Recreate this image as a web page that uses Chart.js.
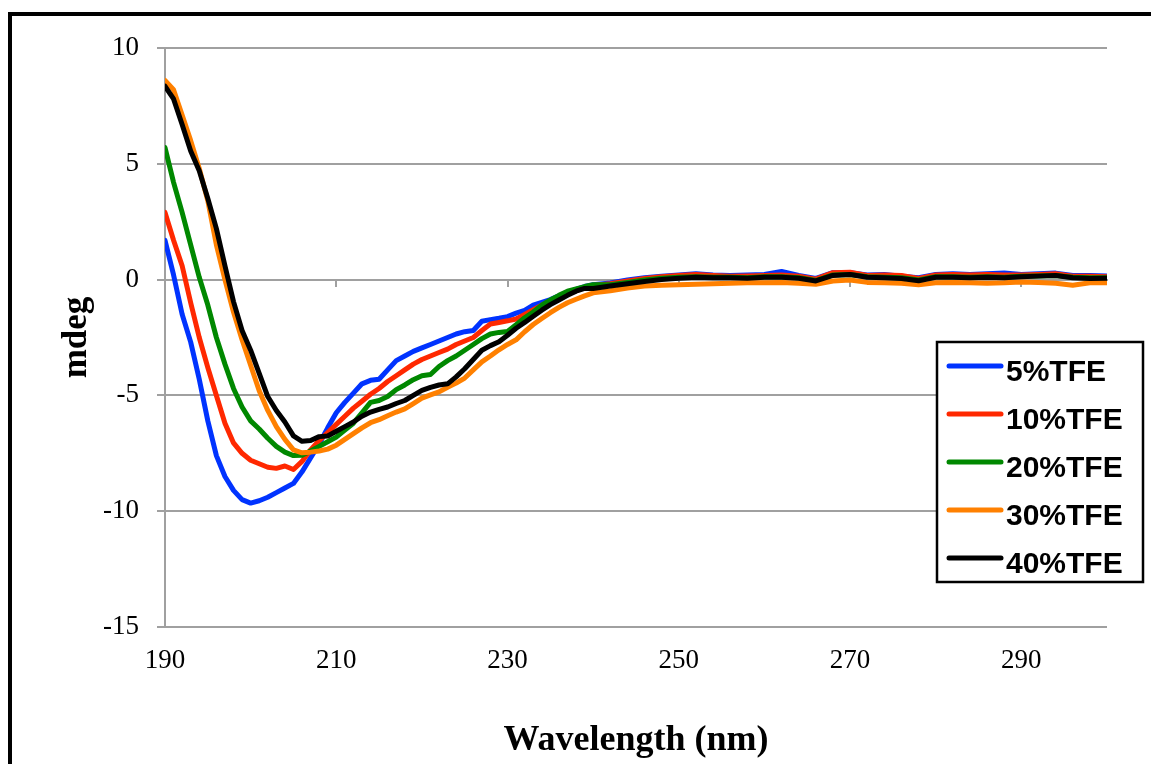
<!DOCTYPE html>
<html>
<head>
<meta charset="utf-8">
<script src="https://cdn.jsdelivr.net/npm/chart.js@4.4.0/dist/chart.umd.min.js"></script>
<style>
  html, body { margin: 0; padding: 0; background: #fff; }
  #wrap { width: 1151px; height: 764px; }
</style>
</head>
<body>
<div id="wrap"><canvas id="cd" width="1151" height="764"></canvas></div>
<script>
// wavelength grid (nm)
const wavelengths = [
  190, 191, 192, 193, 194, 195, 196, 197, 198, 199,
  200, 201, 202, 203, 204, 205, 206, 207, 208, 209,
  210, 211, 212, 213, 214, 215, 216, 217, 218, 219,
  220, 221, 222, 223, 224, 225, 226, 227, 228, 229,
  230, 231, 232, 233, 234, 235, 236, 237, 238, 239, 240,
  242, 244, 246, 248, 250, 252, 254, 256, 258, 260,
  262, 264, 266, 268, 270, 272, 274, 276, 278, 280,
  282, 284, 286, 288, 290, 292, 294, 296, 298, 300
];

const tfe5 = [
  1.7, 0.2, -1.5, -2.7, -4.3, -6.1, -7.6, -8.5, -9.1, -9.5,
  -9.65, -9.55, -9.4, -9.2, -9.0, -8.8, -8.3, -7.7, -7.1, -6.4,
  -5.75, -5.3, -4.9, -4.5, -4.35, -4.3, -3.9, -3.5, -3.3, -3.1,
  -2.95, -2.8, -2.65, -2.5, -2.35, -2.25, -2.2, -1.8, -1.73, -1.67,
  -1.6, -1.45, -1.33, -1.1, -0.98, -0.86, -0.7, -0.55, -0.42, -0.3, -0.22,
  -0.15, -0.02, 0.08, 0.15, 0.2, 0.25, 0.2, 0.18, 0.2, 0.22,
  0.35, 0.18, 0.05, 0.3, 0.3, 0.2, 0.22, 0.15, 0.08, 0.22,
  0.25, 0.22, 0.25, 0.28, 0.22, 0.25, 0.28, 0.18, 0.18, 0.15
];

const tfe10 = [
  2.9, 1.7, 0.6, -1.0, -2.5, -3.8, -5.0, -6.2, -7.05, -7.5,
  -7.8, -7.95, -8.1, -8.15, -8.05, -8.2, -7.85, -7.35, -6.95, -6.6,
  -6.25, -5.9, -5.55, -5.25, -4.95, -4.7, -4.4, -4.15, -3.9, -3.65,
  -3.45, -3.3, -3.15, -3.0, -2.8, -2.65, -2.5, -2.2, -1.92, -1.85,
  -1.78, -1.7, -1.5, -1.3, -1.1, -0.94, -0.78, -0.62, -0.48, -0.35, -0.25,
  -0.18, -0.06, 0.05, 0.12, 0.18, 0.22, 0.18, 0.15, 0.16, 0.18,
  0.2, 0.15, 0.02, 0.3, 0.32, 0.18, 0.2, 0.18, 0.05, 0.2,
  0.22, 0.2, 0.22, 0.2, 0.2, 0.22, 0.25, 0.15, 0.15, 0.12
];

const tfe20 = [
  5.7, 4.2, 2.9, 1.5, 0.1, -1.1, -2.5, -3.65, -4.7, -5.5,
  -6.1, -6.45, -6.85, -7.2, -7.45, -7.6, -7.58, -7.4, -7.2, -7.0,
  -6.8, -6.5, -6.2, -5.75, -5.3, -5.22, -5.05, -4.75, -4.55, -4.32,
  -4.15, -4.1, -3.75, -3.5, -3.3, -3.05, -2.8, -2.55, -2.35, -2.28,
  -2.24, -1.95, -1.65, -1.4, -1.1, -0.88, -0.68, -0.5, -0.4, -0.3, -0.22,
  -0.22, -0.12, -0.02, 0.06, 0.1, 0.12, 0.1, 0.1, 0.08, 0.12,
  0.12, 0.08, -0.04, 0.2, 0.22, 0.12, 0.1, 0.08, -0.02, 0.12,
  0.12, 0.1, 0.12, 0.1, 0.14, 0.16, 0.18, 0.1, 0.08, 0.08
];

const tfe30 = [
  8.6, 8.2, 7.1, 6.0, 4.8, 3.4, 1.5, 0.0, -1.4, -2.6,
  -3.7, -4.8, -5.65, -6.35, -6.9, -7.35, -7.48, -7.45, -7.4, -7.32,
  -7.15, -6.9, -6.65, -6.4, -6.18, -6.05, -5.88, -5.72, -5.58, -5.35,
  -5.12, -4.98, -4.85, -4.65, -4.47, -4.25, -3.9, -3.55, -3.3, -3.03,
  -2.8, -2.6, -2.25, -1.94, -1.68, -1.43, -1.2, -1.0, -0.85, -0.7, -0.57,
  -0.48, -0.36, -0.28, -0.24, -0.22, -0.2, -0.18, -0.16, -0.14, -0.14,
  -0.12, -0.16, -0.2, -0.06, -0.02, -0.12, -0.14, -0.16, -0.22, -0.14,
  -0.12, -0.14, -0.16, -0.14, -0.1, -0.12, -0.16, -0.24, -0.14, -0.14
];

const tfe40 = [
  8.35, 7.8, 6.7, 5.55, 4.7, 3.5, 2.2, 0.6, -0.95, -2.2,
  -3.05, -4.05, -5.05, -5.65, -6.15, -6.75, -6.98, -6.95, -6.78, -6.75,
  -6.55, -6.35, -6.15, -5.9, -5.72, -5.6, -5.5, -5.35, -5.22, -5.0,
  -4.78, -4.65, -4.55, -4.5, -4.2, -3.85, -3.45, -3.05, -2.85, -2.68,
  -2.4, -2.1, -1.85, -1.58, -1.32, -1.08, -0.88, -0.68, -0.5, -0.38, -0.38,
  -0.28, -0.18, -0.08, 0.0, 0.06, 0.1, 0.08, 0.08, 0.06, 0.1,
  0.1, 0.06, -0.06, 0.18, 0.22, 0.1, 0.08, 0.05, -0.05, 0.1,
  0.1, 0.08, 0.1, 0.08, 0.12, 0.15, 0.18, 0.08, 0.05, 0.06
];

const seriesNames = ['5%TFE', '10%TFE', '20%TFE', '30%TFE', '40%TFE'];
const seriesColors = ['#0033ff', '#ff2800', '#008800', '#ff8000', '#000000'];
const seriesValues = [tfe5, tfe10, tfe20, tfe30, tfe40];

const xTicks = [190, 210, 230, 250, 270, 290];
const yTicks = [-15, -10, -5, 0, 5, 10];

const GRID = '#a0a0a0';
const SERIF = '"Liberation Serif", "Times New Roman", serif';

const pts = vals => vals.map((v, i) => ({ x: wavelengths[i], y: v }));
const useTicks = list => s => { s.ticks = list.map(v => ({ value: v })); };

// outer frame of the figure
const framePlugin = {
  id: 'frame',
  beforeDraw(chart) {
    const c = chart.ctx;
    c.save();
    c.fillStyle = '#000';
    c.fillRect(8, 12, chart.width - 8, 4);
    c.fillRect(8, 12, 4, chart.height - 12);
    c.restore();
  }
};

// boxed legend on the right side of the plot
const legendPlugin = {
  id: 'boxLegend',
  afterDraw(chart) {
    const c = chart.ctx;
    const left = 937, top = 342, w = 206, h = 240;
    c.save();
    c.fillStyle = '#fff';
    c.fillRect(left, top, w, h);
    c.strokeStyle = '#000';
    c.lineWidth = 2.5;
    c.strokeRect(left, top, w, h);
    c.font = 'bold 30px "Liberation Sans", Arial, sans-serif';
    c.textBaseline = 'alphabetic';
    c.textAlign = 'left';
    chart.data.datasets.forEach((ds, i) => {
      const y = 366 + i * 48;
      c.strokeStyle = ds.borderColor;
      c.lineWidth = 5;
      c.lineCap = 'round';
      c.beginPath();
      c.moveTo(949, y);
      c.lineTo(1001, y);
      c.stroke();
      c.fillStyle = '#000';
      c.fillText(ds.label, 1006, y + 14.5);
    });
    c.restore();
  }
};

new Chart(document.getElementById('cd'), {
  type: 'line',
  data: {
    datasets: seriesNames.map((name, i) => ({
      label: name,
      data: pts(seriesValues[i]),
      borderColor: seriesColors[i],
      backgroundColor: seriesColors[i],
      borderWidth: 5,
      pointRadius: 0,
      tension: 0,
      borderJoinStyle: 'round',
      borderCapStyle: 'round',
      order: seriesNames.length - i
    }))
  },
  options: {
    responsive: false,
    animation: false,
    devicePixelRatio: 1,
    layout: { padding: { top: 48, right: 44, left: 0, bottom: 0 } },
    plugins: { legend: { display: false }, tooltip: { enabled: false } },
    scales: {
      x: {
        type: 'linear',
        position: 'bottom',
        min: 190, max: 300,
        afterBuildTicks: useTicks(xTicks),
        afterFit: s => { s.height = 137; },
        grid: { display: false, drawTicks: false, tickLength: 0 },
        border: { display: false },
        ticks: { color: '#000', font: { family: SERIF, size: 27 }, padding: 18, maxRotation: 0 },
        title: {
          display: true, text: 'Wavelength (nm)', color: '#000',
          font: { family: SERIF, size: 36, weight: 'bold' },
          padding: { top: 0, bottom: 2 }
        }
      },
      x0: {
        type: 'linear',
        position: { y: 0 },
        min: 190, max: 300,
        afterBuildTicks: useTicks(xTicks),
        grid: { color: GRID, lineWidth: 2, drawOnChartArea: false, drawTicks: true, tickLength: 6 },
        border: { display: true, color: GRID, width: 2 },
        ticks: { display: false }
      },
      y: {
        type: 'linear',
        position: 'left',
        min: -15, max: 10,
        afterBuildTicks: useTicks(yTicks),
        afterFit: s => { s.width = 165; },
        grid: { color: GRID, lineWidth: 2, drawTicks: true, tickLength: 8 },
        border: { display: true, color: GRID, width: 2 },
        ticks: { color: '#000', font: { family: SERIF, size: 27 }, padding: 18 },
        title: {
          display: true, text: 'mdeg', color: '#000',
          font: { family: SERIF, size: 35, weight: 'bold' },
          padding: { top: 56, bottom: 0 }
        }
      }
    }
  },
  plugins: [framePlugin, legendPlugin]
});
</script>
</body>
</html>
